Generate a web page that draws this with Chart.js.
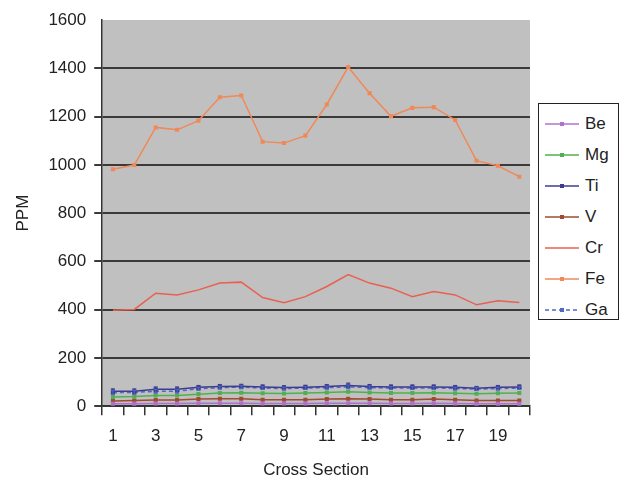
<!DOCTYPE html>
<html>
<head>
<meta charset="utf-8">
<script src="https://cdn.jsdelivr.net/npm/chart.js@4.4.1/dist/chart.umd.min.js"></script>
<style>
  html, body { margin: 0; padding: 0; background: #fff; }
  #wrap { position: relative; width: 622px; height: 481px; }
  #legend {
    position: absolute; left: 538px; top: 103px; width: 81px; height: 217px;
    border: 1px solid #222; background: #fff; box-sizing: border-box;
    font-family: Arial, "Liberation Sans", sans-serif; font-size: 17px; color: #222;
    padding-top: 4px;
  }
  #legend .item { height: 31px; display: flex; align-items: center; }
  #legend svg { margin-left: 6px; margin-right: 6px; }
</style>
</head>
<body>
<div id="wrap">
  <canvas id="chart" width="622" height="481"></canvas>
  <div id="legend"></div>
</div>
<script>
// 데이터
var sections = ['1','2','3','4','5','6','7','8','9','10','11','12','13','14','15','16','17','18','19','20'];
var seriesNames = ['Be', 'Mg', 'Ti', 'V', 'Cr', 'Fe', 'Ga'];
var seriesColors = ['#b070d0', '#50b050', '#3c3c90', '#a04a30', '#e86050', '#f08858', '#5068c8'];

var be = [10, 10, 11, 11, 12, 12, 12, 11, 11, 11, 12, 12, 12, 11, 11, 12, 11, 10, 10, 10];
var mg = [38, 40, 44, 44, 50, 55, 56, 54, 53, 55, 57, 60, 57, 55, 55, 56, 54, 52, 54, 55];
var ti = [62, 62, 70, 70, 78, 82, 83, 80, 77, 79, 82, 86, 82, 80, 80, 80, 78, 74, 78, 80];
var v  = [22, 24, 26, 26, 30, 31, 31, 27, 27, 27, 30, 31, 30, 27, 27, 30, 27, 24, 24, 24];
var cr = [398, 401, 468, 461, 482, 510, 514, 450, 429, 454, 496, 545, 510, 489, 454, 475, 461, 420, 437, 430];
var fe = [982, 999, 1155, 1145, 1183, 1280, 1287, 1096, 1090, 1121, 1250, 1405, 1297, 1201, 1236, 1239, 1186, 1017, 996, 951];
var ga = [56, 57, 62, 62, 72, 77, 79, 75, 73, 75, 77, 80, 77, 75, 75, 76, 73, 71, 73, 75];

var tiErr = [10, 10, 10, 10, 8, 8, 8, 8, 8, 8, 8, 10, 8, 8, 8, 8, 8, 8, 8, 8];
var gaErr = [8, 8, 8, 8, 6, 6, 6, 6, 6, 6, 6, 8, 6, 6, 6, 6, 6, 6, 6, 6];

var yTicks = [0, 200, 400, 600, 800, 1000, 1200, 1400, 1600];

var seriesData = [be, mg, ti, v, cr, fe, ga];
var seriesErr = [null, null, tiErr, null, null, null, gaErr];

var FONT = "Arial, 'Liberation Sans', sans-serif";

// 플롯 배경 (회색)
var plotBg = {
	id: 'plotBg',
	beforeDraw: function(chart) {
		var a = chart.chartArea, c = chart.ctx;
		c.save();
		c.fillStyle = '#c0c0c0';
		c.fillRect(a.left, a.top, a.right - a.left, a.bottom - a.top);
		c.restore();
	}
};

// 오차 막대
var errorBars = {
	id: 'errorBars',
	afterDatasetsDraw: function(chart) {
		var c = chart.ctx, y = chart.scales.y;
		chart.data.datasets.forEach(function(ds, i) {
			var err = seriesErr[i];
			if (!err) return;
			var meta = chart.getDatasetMeta(i);
			c.save();
			c.strokeStyle = ds.borderColor;
			c.lineWidth = 1;
			meta.data.forEach(function(pt, j) {
				var v = ds.data[j];
				var top = y.getPixelForValue(v + err[j]);
				var bot = y.getPixelForValue(v - err[j]);
				c.beginPath();
				c.moveTo(pt.x, top); c.lineTo(pt.x, bot);
				c.moveTo(pt.x - 2, top); c.lineTo(pt.x + 2, top);
				c.moveTo(pt.x - 2, bot); c.lineTo(pt.x + 2, bot);
				c.stroke();
			});
			c.restore();
		});
	}
};

var datasets = seriesNames.map(function(name, i) {
	return {
		label: name,
		data: seriesData[i],
		borderColor: seriesColors[i],
		backgroundColor: seriesColors[i],
		borderWidth: 1.5,
		borderDash: name === 'Ga' ? [4, 3] : [],
		pointRadius: name === 'Cr' ? 0 : 1.8,
		pointStyle: 'rect',
		tension: 0
	};
});

var myChart = new Chart(document.getElementById('chart').getContext('2d'), {
	type: 'line',
	data: { labels: sections, datasets: datasets },
	plugins: [plotBg, errorBars],
	options: {
		responsive: false,
		animation: false,
		layout: { padding: { top: 20, right: 92, bottom: 0, left: 13 } },
		plugins: {
			legend: { display: false },
			tooltip: { enabled: false }
		},
		scales: {
			x: {
				type: 'category',
				offset: true,
				border: { display: true, color: '#333', width: 1.5 },
				grid: {
					offset: true,
					drawOnChartArea: false,
					drawTicks: true,
					tickLength: 9,
					color: '#333',
					lineWidth: 1.5
				},
				ticks: {
					autoSkip: false,
					maxRotation: 0,
					padding: 11,
					color: '#222',
					font: { family: FONT, size: 17 },
					callback: function(value, index) {
						return index % 2 === 0 ? this.getLabelForValue(value) : '';
					}
				},
				title: {
					display: true,
					text: 'Cross Section',
					color: '#222',
					font: { family: FONT, size: 17 },
					padding: { top: 3, bottom: 0 }
				}
			},
			y: {
				min: yTicks[0],
				max: yTicks[yTicks.length - 1],
				afterBuildTicks: function(axis) {
					axis.ticks = yTicks.map(function(v) { return { value: v }; });
				},
				border: { display: true, color: '#333', width: 1.5 },
				grid: {
					drawTicks: true,
					tickLength: 8,
					color: function(ctx) {
						return ctx.tick && ctx.tick.value === 1600 ? 'rgba(0,0,0,0)' : '#3a3a3a';
					},
					lineWidth: 2
				},
				ticks: {
					padding: 8,
					color: '#222',
					font: { family: FONT, size: 17 },
					callback: function(value) { return String(value); }
				},
				title: {
					display: true,
					text: 'PPM',
					color: '#222',
					font: { family: FONT, size: 17 },
					padding: { top: 0, bottom: 7 }
				}
			}
		}
	}
});

// 범례 (HTML)
var legendEl = document.getElementById('legend');
seriesNames.forEach(function(name, i) {
	var col = seriesColors[i];
	var dash = name === 'Ga' ? ' stroke-dasharray="4,3"' : '';
	var marker = name === 'Cr' ? '' : '<rect x="15" y="4" width="4" height="4" fill="' + col + '"/>';
	var item = document.createElement('div');
	item.className = 'item';
	item.innerHTML = '<svg width="34" height="12"><line x1="0" y1="6" x2="34" y2="6" stroke="' + col + '" stroke-width="1.5"' + dash + '/>' + marker + '</svg><span>' + name + '</span>';
	legendEl.appendChild(item);
});
</script>
</body>
</html>
